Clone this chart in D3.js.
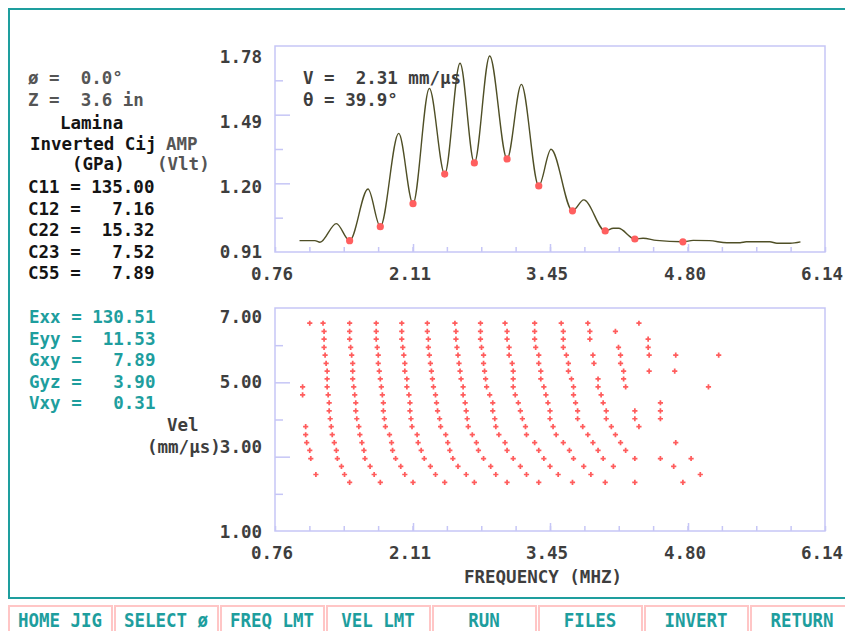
<!DOCTYPE html>
<html>
<head>
<meta charset="utf-8">
<script src="https://cdn.jsdelivr.net/npm/d3@7"></script>
<style>
    body { margin: 0; background: #fff; }
    svg text {
        font-family: "DejaVu Sans Mono", "Liberation Mono", monospace;
        font-weight: bold;
        font-size: 17.5px;
        white-space: pre;
    }
</style>
</head>
<body>
<div id="screen"></div>
<script>
// tick labels
let freq_labels = [0.76, 2.11, 3.45, 4.80, 6.14];
let amp_labels = [0.91, 1.20, 1.49, 1.78];
let vel_labels = [1.00, 3.00, 5.00, 7.00];

// amplitude spectrum (MHz / Vlt)
let spec_freq = [1.00, 1.15, 1.20, 1.36, 1.49, 1.67, 1.79, 1.97, 2.11, 2.27, 2.42, 2.57,
    2.71, 2.86, 3.03, 3.17, 3.34, 3.46, 3.67, 3.78, 3.99, 4.07, 4.12, 4.28, 4.36, 4.49,
    4.75, 4.85, 5.01, 5.18, 5.31, 5.37, 5.60, 5.67, 5.80, 5.90];
let spec_amp = [0.958, 0.958, 0.951, 1.030, 0.958, 1.176, 1.017, 1.411, 1.114, 1.601, 1.239, 1.707,
    1.286, 1.738, 1.303, 1.618, 1.189, 1.344, 1.084, 1.130, 0.999, 1.010, 1.010, 0.965, 0.968, 0.959,
    0.953, 0.959, 0.958, 0.949, 0.949, 0.953, 0.953, 0.947, 0.947, 0.953];

// minima picked on the spectrum
let min_freq = [1.49, 1.79, 2.11, 2.42, 2.71, 3.03, 3.34, 3.67, 3.99, 4.28, 4.75];
let min_amp = [0.958, 1.017, 1.114, 1.239, 1.286, 1.303, 1.189, 1.084, 0.999, 0.965, 0.953];

// velocity rows (mm/us) and the minima frequencies found on each row
let vel_rows = [6.59, 6.37, 6.16, 5.94, 5.73, 5.51, 5.30, 5.09, 4.88, 4.66, 4.45,
    4.23, 4.02, 3.81, 3.59, 3.38, 3.17, 2.95, 2.74, 2.52, 2.31];
let vel_row_freqs = [
    [1.10, 1.23, 1.49, 1.75, 2.00, 2.25, 2.52, 2.77, 3.01, 3.30, 3.56, 3.82, 4.32],
    [1.24, 1.49, 1.75, 2.00, 2.25, 2.53, 2.77, 3.03, 3.30, 3.58, 3.84, 4.09],
    [1.24, 1.49, 1.75, 2.00, 2.26, 2.53, 2.77, 3.03, 3.30, 3.58, 3.84, 4.41],
    [1.24, 1.50, 1.76, 2.01, 2.26, 2.54, 2.78, 3.05, 3.31, 3.58, 4.12, 4.41],
    [1.25, 1.51, 1.77, 2.02, 2.27, 2.55, 2.80, 3.05, 3.34, 3.61, 3.87, 4.14, 4.42, 4.68, 5.10],
    [1.26, 1.52, 1.77, 2.03, 2.28, 2.56, 2.80, 3.08, 3.34, 3.63, 3.88, 4.14],
    [1.27, 1.52, 1.78, 2.03, 2.29, 2.57, 2.81, 3.09, 3.36, 3.63, 4.17, 4.42, 4.67],
    [1.27, 1.52, 1.79, 2.05, 2.30, 2.58, 2.82, 3.09, 3.36, 3.66, 3.92, 4.17],
    [1.03, 1.27, 1.53, 1.80, 2.05, 2.31, 2.60, 2.83, 3.09, 3.39, 3.68, 3.92, 4.19, 5.00],
    [1.03, 1.28, 1.54, 1.81, 2.07, 2.33, 2.60, 2.86, 3.11, 3.41, 3.68, 3.95],
    [1.29, 1.55, 1.82, 2.08, 2.34, 2.62, 2.89, 3.14, 3.43, 3.70, 3.97, 4.53],
    [1.29, 1.55, 1.82, 2.08, 2.35, 2.63, 2.89, 3.16, 3.45, 3.72, 4.00, 4.28, 4.53],
    [1.30, 1.56, 1.83, 2.09, 2.37, 2.64, 2.91, 3.18, 3.45, 3.72, 4.00, 4.28, 4.53],
    [1.06, 1.31, 1.58, 1.84, 2.10, 2.38, 2.65, 2.92, 3.21, 3.48, 3.77, 4.05, 4.32],
    [1.06, 1.32, 1.59, 1.88, 2.15, 2.43, 2.69, 2.95, 3.22, 3.51, 3.82, 4.09],
    [1.07, 1.34, 1.61, 1.90, 2.16, 2.45, 2.73, 3.01, 3.30, 3.58, 3.87, 4.14, 4.68],
    [1.10, 1.36, 1.63, 1.91, 2.19, 2.47, 2.75, 3.03, 3.34, 3.64, 3.92, 4.19],
    [1.11, 1.37, 1.64, 1.94, 2.22, 2.50, 2.80, 3.09, 3.39, 3.68, 3.97, 4.28, 4.53, 4.83],
    [1.41, 1.69, 1.99, 2.28, 2.55, 2.87, 3.16, 3.45, 3.78, 4.07, 4.66],
    [1.16, 1.44, 1.73, 2.03, 2.33, 2.63, 2.92, 3.22, 3.53, 3.85, 4.92],
    [1.49, 1.79, 2.11, 2.42, 2.71, 3.03, 3.34, 3.67, 3.99, 4.28, 4.75]
];

// screen texts
let elastic_lines = ["C11 = 135.00", "C12 =   7.16", "C22 =  15.32", "C23 =   7.52", "C55 =   7.89"];
let eng_lines = ["Exx = 130.51", "Eyy =  11.53", "Gxy =   7.89", "Gyz =   3.90", "Vxy =   0.31"];
let button_labels = ["HOME JIG", "SELECT ø", "FREQ LMT", "VEL LMT", "RUN", "FILES", "INVERT", "RETURN"];

let teal = "#1e9e9e";
let axis_col = "#c6c6f6";
let dark = "#3e3e3e";
let black = "#141414";
let grey = "#555";

let svg = d3.select("#screen").append("svg")
    .attr("width", 845).attr("height", 631);

// frame
svg.append("path")
    .attr("d", "M845,9 H9 V598 H845")
    .attr("fill", "none").attr("stroke", teal).attr("stroke-width", 2);

// scales
let x = d3.scaleLinear().domain([0.76, 6.14]).range([275, 825]);
let y_amp = d3.scaleLinear().domain([0.91, 1.78]).range([252, 46]);
let y_vel = d3.scaleLinear().domain([1, 7]).range([531, 308]);
// the old screen writes tick labels on its own text grid
let amp_label_y = d3.scaleLinear().domain([0.91, 1.78]).range([258, 63]);
let vel_label_y = d3.scaleLinear().domain([3, 7]).range([453, 323]);

let x_minor = d3.range(17).map(i => 0.76 + i * (6.14 - 0.76) / 16);

function draw_frame(y_scale, y_minor, y_major) {
    let [y0, y1] = y_scale.range();
    let g = svg.append("g");
    g.append("rect")
        .attr("x", 275).attr("y", y1).attr("width", 550).attr("height", y0 - y1)
        .attr("fill", "none").attr("stroke", axis_col).attr("stroke-width", 1.5);

    // x ticks point up from the bottom border
    g.append("g").attr("transform", "translate(0," + y0 + ")")
        .call(d3.axisTop(x).tickValues(x_minor).tickSize(5).tickFormat(""));
    g.append("g").attr("transform", "translate(0," + y0 + ")")
        .call(d3.axisTop(x).tickValues(freq_labels.slice(1, 4)).tickSize(8).tickFormat(""));
    // y ticks point right from the left border
    g.append("g").attr("transform", "translate(275,0)")
        .call(d3.axisRight(y_scale).tickValues(y_minor).tickSize(8).tickFormat(""));
    g.append("g").attr("transform", "translate(275,0)")
        .call(d3.axisRight(y_scale).tickValues(y_major).tickSize(15).tickFormat(""));

    g.selectAll(".domain").remove();
    g.selectAll(".tick line").attr("stroke", axis_col).attr("stroke-width", 1.5);

    // frequency labels
    g.selectAll(".xlab").data(freq_labels).enter().append("text")
        .attr("x", d => x(d) - 3).attr("y", y0 + 28)
        .attr("text-anchor", "middle").attr("fill", dark)
        .text(d => d.toFixed(2));
}

// ---- amplitude panel ----
draw_frame(y_amp, [1.055, 1.345, 1.635], [1.20, 1.49]);

svg.selectAll(".alab").data(amp_labels).enter().append("text")
    .attr("x", 262).attr("y", d => amp_label_y(d))
    .attr("text-anchor", "end").attr("fill", dark)
    .text(d => d.toFixed(2));

let spectrum = spec_freq.map((f, i) => ({f: f, a: spec_amp[i]}));
let line = d3.line().x(d => x(d.f)).y(d => y_amp(d.a)).curve(d3.curveMonotoneX);

svg.append("path").datum(spectrum)
    .attr("d", line)
    .attr("fill", "none").attr("stroke", "#4f4f26").attr("stroke-width", 1.4);

svg.selectAll(".minpt").data(min_freq).enter().append("circle")
    .attr("cx", d => x(d)).attr("cy", (d, i) => y_amp(min_amp[i]))
    .attr("r", 3.6).attr("fill", "#ff5f5f");

svg.append("text").attr("x", 303).attr("y", 84).attr("fill", dark).text("V =  2.31 mm/µs");
svg.append("text").attr("x", 303).attr("y", 106).attr("fill", dark).text("θ = 39.9°");

// ---- velocity panel ----
draw_frame(y_vel, [2, 4, 6], [3, 5]);

svg.selectAll(".vlab").data(vel_labels).enter().append("text")
    .attr("x", 262).attr("y", d => d === vel_labels[0] ? y_vel(d) + 7 : vel_label_y(d))
    .attr("text-anchor", "end").attr("fill", dark)
    .text(d => d.toFixed(2));

let vel_points = [];
vel_rows.forEach((v, i) => {
    vel_row_freqs[i].forEach(f => vel_points.push({f: f, v: v}));
});

svg.selectAll(".velpt").data(vel_points).enter().append("path")
    .attr("transform", d => "translate(" + x(d.f) + "," + y_vel(d.v) + ")")
    .attr("d", d3.symbol().type(d3.symbolCross).size(15))
    .attr("fill", "#ff5c5c");

svg.append("text").attr("x", 543).attr("y", 583).attr("text-anchor", "middle")
    .attr("fill", dark).text("FREQUENCY (MHZ)");

// ---- left text block ----
svg.append("text").attr("x", 28).attr("y", 84).attr("fill", grey).text("ø =  0.0°");
svg.append("text").attr("x", 28).attr("y", 106).attr("fill", grey).text("Z =  3.6 in");
svg.append("text").attr("x", 60).attr("y", 129).attr("fill", black).text("Lamina");
svg.append("text").attr("x", 30).attr("y", 150).attr("fill", black).text("Inverted Cij");
svg.append("text").attr("x", 166).attr("y", 150).attr("fill", grey).text("AMP");
svg.append("text").attr("x", 72).attr("y", 170).attr("fill", black).text("(GPa)");
svg.append("text").attr("x", 157).attr("y", 170).attr("fill", grey).text("(Vlt)");

svg.selectAll(".cij").data(elastic_lines).enter().append("text")
    .attr("x", 28).attr("y", (d, i) => 193 + i * 21.5)
    .attr("fill", black).text(d => d);

svg.selectAll(".eng").data(eng_lines).enter().append("text")
    .attr("x", 29).attr("y", (d, i) => 323 + i * 21.5)
    .attr("fill", teal).text(d => d);

svg.append("text").attr("x", 167).attr("y", 431).attr("fill", dark).text("Vel");
svg.append("text").attr("x", 147).attr("y", 453).attr("fill", dark).text("(mm/µs)");

// ---- soft key bar ----
let keys = svg.selectAll(".key").data(button_labels).enter().append("g")
    .attr("transform", (d, i) => "translate(" + (8 + i * 106) + ",605)");

keys.append("rect")
    .attr("x", 1).attr("y", 1).attr("width", 103).attr("height", 32)
    .attr("fill", "none").attr("stroke", "#ffc6c6").attr("stroke-width", 2);

keys.append("text")
    .attr("transform", "translate(52,22) scale(1,1.15)")
    .attr("text-anchor", "middle").attr("fill", teal)
    .text(d => d);
</script>
</body>
</html>
